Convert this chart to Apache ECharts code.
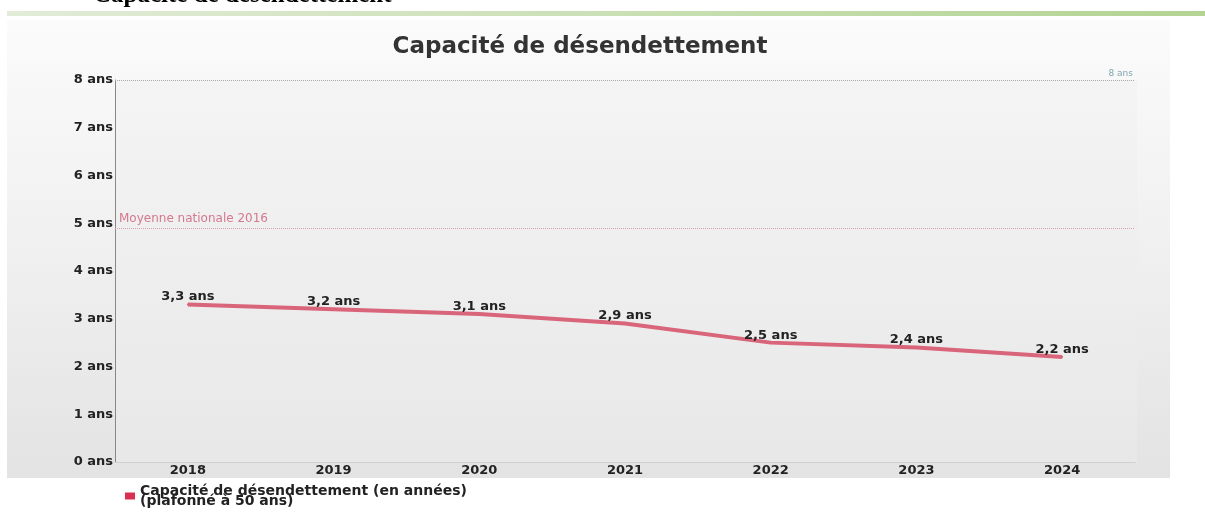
<!DOCTYPE html>
<html><head><meta charset="utf-8">
<script src="https://cdn.jsdelivr.net/npm/echarts@6/dist/echarts.min.js"></script>
<style>html,body{margin:0;padding:0;background:#fff}#c{width:1205px;height:513px}</style>
</head><body><div id="c"></div>
<script>
const years = ['2018','2019','2020','2021','2022','2023','2024'];
const capacite = [3.3, 3.2, 3.1, 2.9, 2.5, 2.4, 2.2];
const moyenneNationale2016 = 4.9;
const plafond = 8;
const yTicks = [0,1,2,3,4,5,6,7,8];
const titleText = 'Capacité de désendettement';
const legendName = 'Capacité de désendettement (en années)';
const legendSub = '(plafonné à 50 ans)';

const fmt = v => String(v).replace('.', ',') + ' ans';
const chart = echarts.init(document.getElementById('c'), null, {renderer:'canvas'});
const F = '"DejaVu Sans", Verdana, sans-serif';
chart.setOption({
  animation:false,
  textStyle:{fontFamily:F},
  graphic:[
    {type:'text', left:93, top:-17, z:10, style:{text:titleText, font:'bold 25px "Liberation Serif", serif', fill:'#000'}},
    {type:'rect', shape:{x:7, y:11, width:1198, height:5}, z:-10,
     style:{fill:new echarts.graphic.LinearGradient(0,0,1,0,[{offset:0,color:'#e2ecd8'},{offset:1,color:'#b3d493'}])}},
    {type:'rect', shape:{x:7, y:20, width:1163, height:458}, z:-10,
     style:{fill:new echarts.graphic.LinearGradient(0,0,0,1,[{offset:0,color:'#fbfbfb'},{offset:0.5,color:'#f0f0f0'},{offset:1,color:'#e3e3e3'}])}},
    {type:'rect', shape:{x:115, y:80, width:1022, height:382}, z:-9,
     style:{fill:new echarts.graphic.LinearGradient(0,0,0,1,[{offset:0,color:'#f4f4f4'},{offset:1,color:'#e8e8e8'}])}}
  ],
  title:{text:titleText, left:575, textAlign:'center', top:31, textStyle:{fontFamily:F, fontSize:23, fontWeight:'bold', color:'#333'}},
  legend:{left:120, top:478, itemWidth:10, itemHeight:7, icon:'rect', itemGap:4,
    data:[{name:legendName, itemStyle:{color:'#d9304f'}}],
    formatter: n => n + '\n' + legendSub,
    textStyle:{fontFamily:F, fontSize:14, fontWeight:'bold', color:'#222', lineHeight:10, padding:[6,0,0,0]}},
  grid:{left:115, top:80, width:1020, height:382, containLabel:false},
  xAxis:{type:'category', data:years, boundaryGap:true,
    axisLine:{show:true, lineStyle:{color:'#d0d0d0'}}, axisTick:{show:false},
    axisLabel:{margin:2, fontFamily:F, fontSize:13, fontWeight:'bold', color:'#222'}},
  yAxis:{type:'value', min:yTicks[0], max:yTicks[yTicks.length-1], interval:1,
    axisLine:{show:true, lineStyle:{color:'#888'}}, axisTick:{show:false}, splitLine:{show:false},
    axisLabel:{margin:2, formatter:v=>v+' ans', fontFamily:F, fontSize:13, fontWeight:'bold', color:'#222'}},
  series:[{
    name:legendName, type:'line', data:capacite, showSymbol:true, symbol:'circle', symbolSize:2,
    itemStyle:{color:'#d9657a', borderWidth:0},
    lineStyle:{color:'#d9657a', width:4},
    label:{show:true, position:'top', distance:0, formatter:p=>fmt(p.value), fontFamily:F, fontSize:13, fontWeight:'bold', color:'#222'},
    markLine:{silent:true, symbol:'none',
      data:[
        {yAxis:plafond, lineStyle:{type:'dotted', color:'#a8a8a8', width:1},
         label:{show:true, position:'insideEndTop', formatter:'8 ans', color:'#7fa7b0', fontSize:9, distance:[2,2]}},
        {yAxis:moyenneNationale2016, lineStyle:{type:'dotted', color:'#d9a0ad', width:1},
         label:{show:true, position:'insideStartTop', formatter:'Moyenne nationale 2016', color:'#d4788e', fontSize:12, distance:[4,3]}}
      ]}
  }]
});
</script></body></html>
